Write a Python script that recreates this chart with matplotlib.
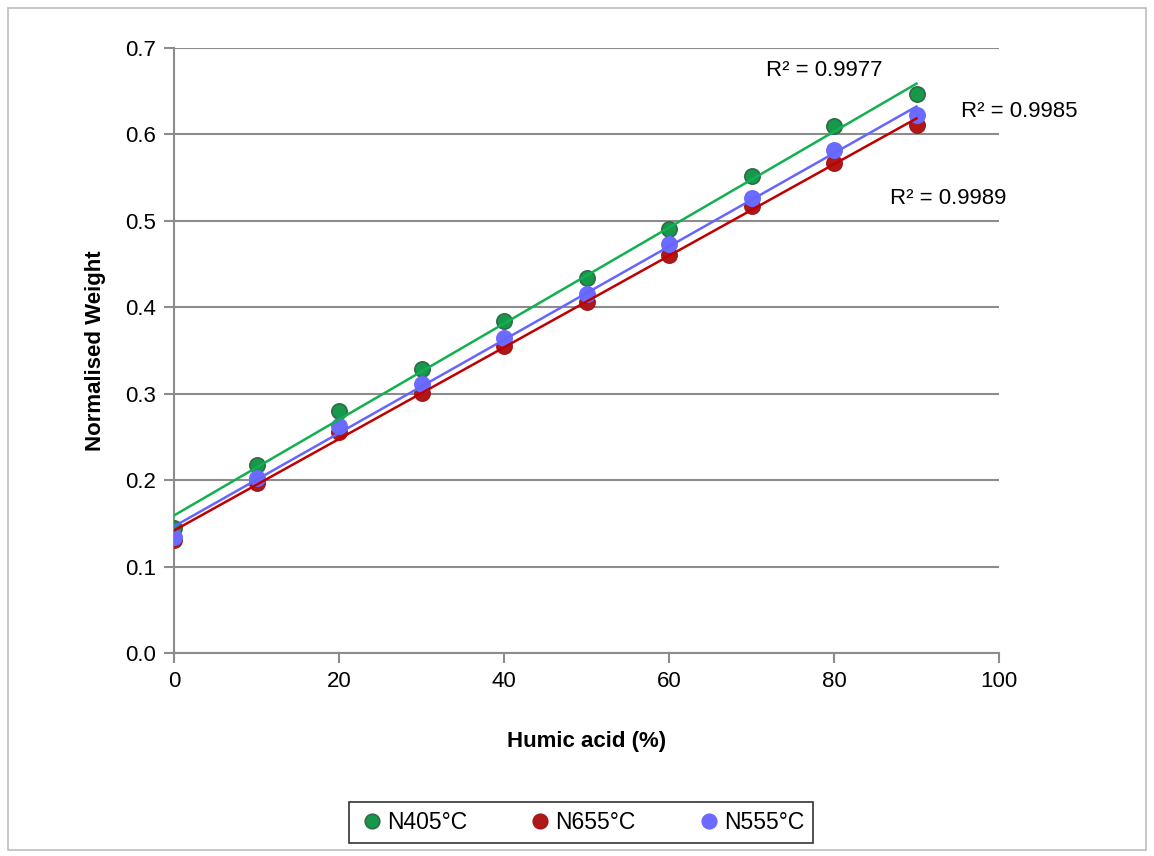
import numpy as np
import matplotlib.pyplot as plt
from matplotlib.patches import Rectangle
from matplotlib.ticker import FuncFormatter

plt.rcParams['font.family'] = ['Liberation Sans', 'DejaVu Sans']

GRID = "#8c8c8c"

humic = [0, 10, 20, 30, 40, 50, 60, 70, 80, 90]
n405 = [0.145, 0.2175, 0.280, 0.329, 0.384, 0.434, 0.491, 0.552, 0.610, 0.647]
n655 = [0.131, 0.197, 0.256, 0.301, 0.355, 0.406, 0.460, 0.517, 0.567, 0.611]
n555 = [0.134, 0.202, 0.263, 0.311, 0.365, 0.415, 0.473, 0.527, 0.582, 0.622]
r2_labels = ["R² = 0.9977", "R² = 0.9985", "R² = 0.9989"]

series = [
    ("N405°C", n405, "#16994a", "#2f6b47", "#12b050"),
    ("N655°C", n655, "#b01818", "#a01a1a", "#c00000"),
    ("N555°C", n555, "#6b6bff", "#6b6bff", "#6666ff"),
]

fig = plt.figure(figsize=(11.54, 8.56), dpi=100)
ax = fig.add_axes([0.1508, 0.2372, 0.7149, 0.7067])

x = np.array(humic, dtype=float)
for name, vals, fc, ec, lc in series:
    ax.plot(x, vals, "o", ms=11, mfc=fc, mec=ec, mew=1.2, zorder=3, label=name)
for name, vals, fc, ec, lc in series:
    k, b = np.polyfit(x, vals, 1)
    ax.plot([x[0], x[-1]], [b, k * x[-1] + b], color=lc, lw=1.8, zorder=4)

ax.set_xlim(0, 100)
ax.set_ylim(0, 0.7)
ax.set_xticks(range(0, 101, 20))
ax.set_yticks(np.arange(0, 0.71, 0.1))
ax.yaxis.set_major_formatter(FuncFormatter(lambda v, _: f"{v:.1f}"))
ax.tick_params(labelsize=16, color=GRID, length=7, width=1.5, pad=6)
ax.grid(axis="y", color=GRID, lw=1.5, zorder=0)
ax.set_axisbelow(True)
for sp in ("top", "right"):
    ax.spines[sp].set_visible(False)
for sp in ("left", "bottom"):
    ax.spines[sp].set_color(GRID)
    ax.spines[sp].set_linewidth(1.5)

ax.set_xlabel("Humic acid (%)", fontsize=16, fontweight="bold", labelpad=28)
ax.set_ylabel("Normalised Weight", fontsize=16, fontweight="bold", labelpad=14)

ax.text(78.8, 0.6745, r2_labels[0], fontsize=16, ha="center", va="center", clip_on=False)
ax.text(102.5, 0.626, r2_labels[1], fontsize=16, ha="center", va="center", clip_on=False)
ax.text(93.8, 0.5264, r2_labels[2], fontsize=16, ha="center", va="center", clip_on=False)

leg = fig.legend(loc="center", bbox_to_anchor=(0.5035, 0.039), ncol=3, fontsize=16.5,
                 frameon=True, fancybox=False, edgecolor="black", handletextpad=0.05,
                 columnspacing=2.6, borderpad=0.4, handlelength=1.2, markerscale=0.95)
leg.get_frame().set_linewidth(1.2)

fig.patches.append(Rectangle((8 / 1154, 6 / 856), 1138 / 1154, 842 / 856,
                             transform=fig.transFigure, fill=False,
                             edgecolor="#bdbdbd", lw=1.2))

fig.savefig("out.png", dpi=100, facecolor="white")
